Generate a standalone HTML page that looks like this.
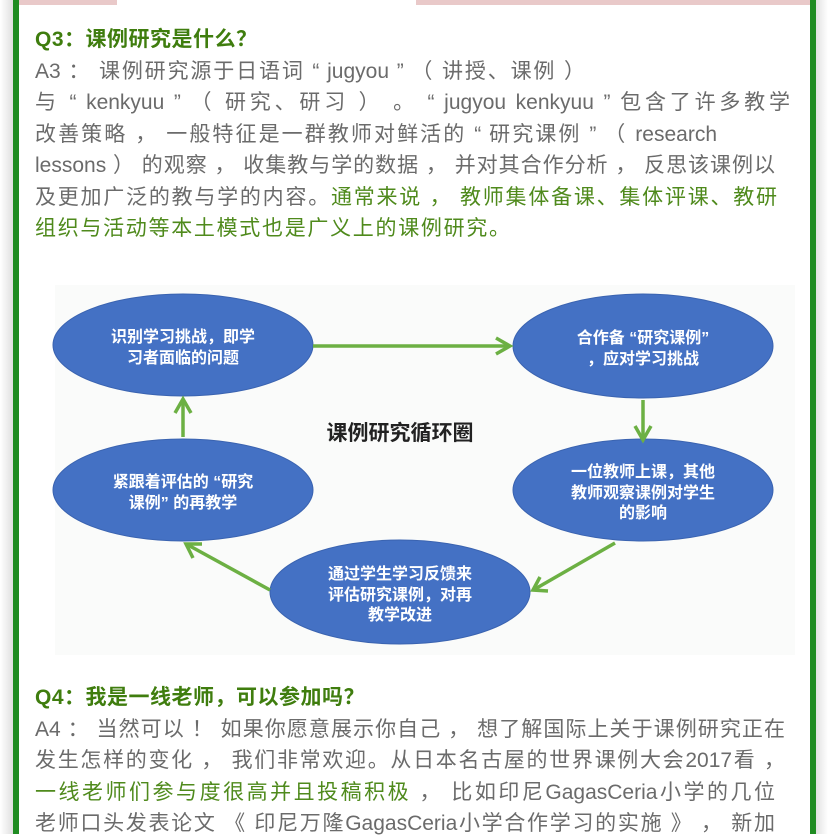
<!DOCTYPE html>
<html><head><meta charset="utf-8"><style>
body{margin:0;width:828px;height:834px;overflow:hidden;background:#fff;position:relative;font-family:"Liberation Sans","Noto Sans CJK SC",sans-serif}
.bar{position:absolute;top:0;height:5px;background:#e9c9c9}
.side{position:absolute;top:0;width:14px;height:834px}
.bl{position:absolute;top:0;width:6px;height:834px;background:#1f8c22}
.l{position:absolute;left:35px;white-space:nowrap;font-size:21px;color:#6b6b6b;height:31px;line-height:31px;text-align:justify;text-align-last:justify;overflow:visible}
.q{color:#3f7d0e;font-weight:bold}
.g{color:#4f8a1c}
</style></head><body>
<div class="bar" style="left:0;width:117px"></div>
<div class="bar" style="left:416px;width:412px"></div>
<div class="side" style="left:0;background:linear-gradient(90deg,#fff,#ddd)"></div>
<div class="side" style="right:0;background:linear-gradient(270deg,#fff,#ddd)"></div>
<div class="bl" style="left:13px"></div>
<div class="bl" style="left:810px"></div>
<div class="l q" style="top:24px;text-align:left;text-align-last:left;letter-spacing:0.5px">Q3：课例研究是什么？</div>
<div class="l" style="top:56px;width:550px">A3 ： 课例研究源于日语词 “ jugyou ” （ 讲授、课例 ）</div>
<div class="l" style="top:87px;width:755px">与 “ kenkyuu ” （ 研究、研习 ） 。 “ jugyou kenkyuu ” 包含了许多教学</div>
<div class="l" style="top:119px;width:682px">改善策略 ， 一般特征是一群教师对鲜活的 “ 研究课例 ” （ research</div>
<div class="l" style="top:150px;width:740px">lessons ） 的观察 ， 收集教与学的数据 ， 并对其合作分析 ， 反思该课例以</div>
<div class="l" style="top:182px;width:742px">及更加广泛的教与学的内容。<span class="g">通常来说 ， 教师集体备课、集体评课、教研</span></div>
<div class="l g" style="top:213px;width:475px">组织与活动等本土模式也是广义上的课例研究。</div>
<svg style="position:absolute;left:0;top:0" width="828" height="834">
<rect x="55" y="285" width="740" height="370" fill="#fafbfa"/>
<g fill="#4471c4" stroke="#3a63b0" stroke-width="1">
<ellipse cx="183" cy="345" rx="130" ry="51"/>
<ellipse cx="643" cy="346" rx="130" ry="52"/>
<ellipse cx="643" cy="490" rx="130" ry="51"/>
<ellipse cx="183" cy="490" rx="130" ry="51"/>
<ellipse cx="400" cy="592" rx="130" ry="52"/>
</g>
<g stroke="#6cb043" stroke-width="3.5" fill="none">
<line x1="313" y1="346" x2="508" y2="346"/><polyline points="496,338 510,346 496,354"/>
<line x1="643" y1="400" x2="643" y2="438"/><polyline points="635,426 643,440 651,426"/>
<line x1="615" y1="543" x2="535" y2="589"/><polyline points="540,577 533,590 548,591"/>
<line x1="270" y1="590" x2="188" y2="545"/><polyline points="193,558 186,544 202,544"/>
<line x1="183" y1="437" x2="183" y2="401"/><polyline points="175,413 183,399 191,413"/>
</g>
<g font-family="Liberation Sans,Noto Sans CJK SC,sans-serif" font-weight="bold" font-size="16" fill="#fff" text-anchor="middle">
<text x="183" y="342">识别学习挑战，即学</text><text x="183" y="363">习者面临的问题</text>
<text x="643" y="343">合作备 “研究课例”</text><text x="643" y="364">，应对学习挑战</text>
<text x="643" y="477">一位教师上课，其他</text><text x="643" y="498">教师观察课例对学生</text><text x="643" y="518">的影响</text>
<text x="183" y="487">紧跟着评估的 “研究</text><text x="183" y="508">课例” 的再教学</text>
<text x="400" y="579">通过学生学习反馈来</text><text x="400" y="600">评估研究课例，对再</text><text x="400" y="620">教学改进</text>
<text x="400" y="440" font-size="21" fill="#222">课例研究循环圈</text>
</g>
</svg>
<div class="l q" style="top:682px;text-align:left;text-align-last:left;letter-spacing:0.5px">Q4：我是一线老师，可以参加吗？</div>
<div class="l" style="top:714px;width:750px">A4 ： 当然可以 ！ 如果你愿意展示你自己 ， 想了解国际上关于课例研究正在</div>
<div class="l" style="top:745px;width:750px">发生怎样的变化 ， 我们非常欢迎。从日本名古屋的世界课例大会2017看 ，</div>
<div class="l" style="top:777px;width:740px"><span class="g">一线老师们参与度很高并且投稿积极</span> ， 比如印尼GagasCeria小学的几位</div>
<div class="l" style="top:808px;width:740px">老师口头发表论文 《 印尼万隆GagasCeria小学合作学习的实施 》 ， 新加</div>
</body></html>
